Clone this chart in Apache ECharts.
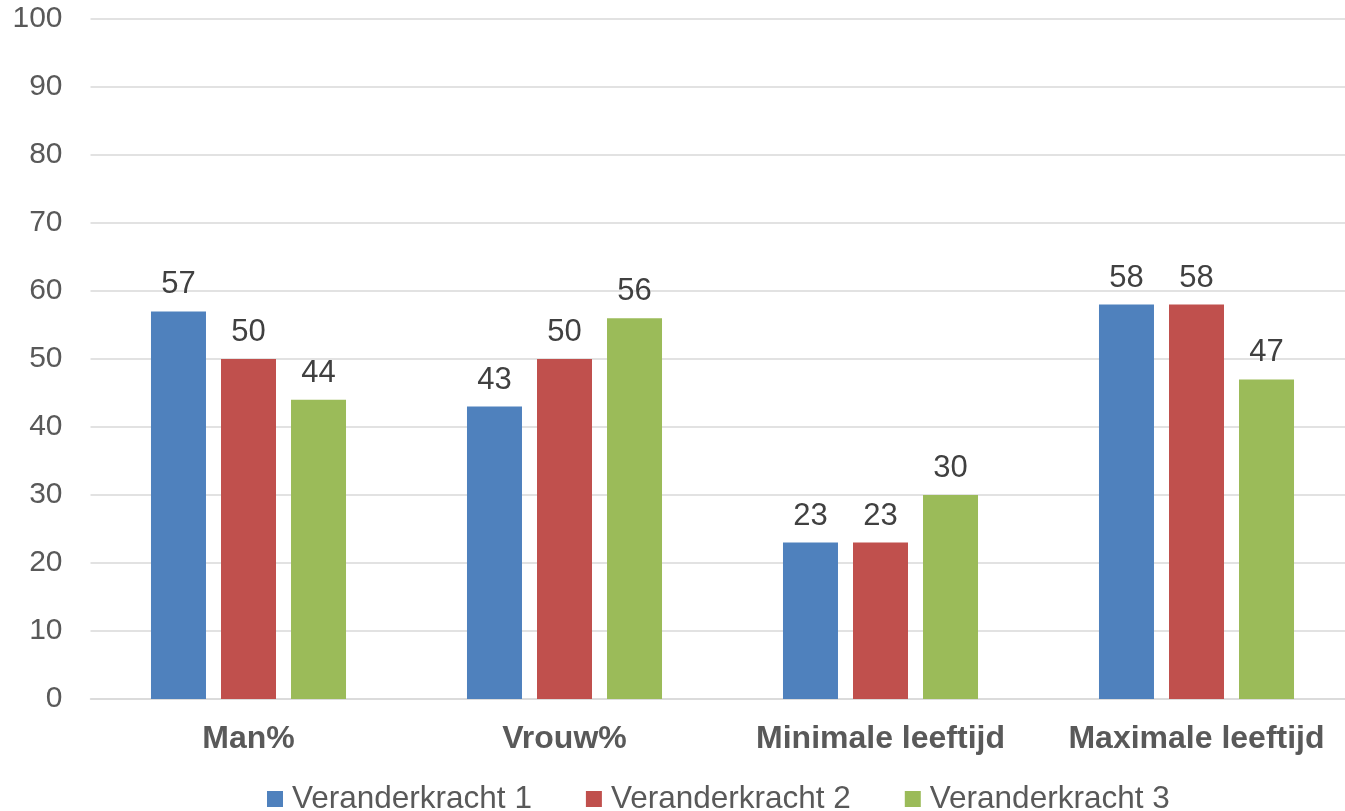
<!DOCTYPE html>
<html>
<head>
<meta charset="utf-8">
<script src="https://cdn.jsdelivr.net/npm/echarts@6/dist/echarts.min.js"></script>
<style>html,body{margin:0;padding:0;background:#fff;overflow:hidden;width:1345px;height:811px;}#c{width:1355px;height:811px;}</style>
</head>
<body>
<div id="c"></div>
<script>
const categories = ['Man%', 'Vrouw%', 'Minimale leeftijd', 'Maximale leeftijd'];
const seriesNames = ['Veranderkracht 1', 'Veranderkracht 2', 'Veranderkracht 3'];
const vk1 = [57, 43, 23, 58];
const vk2 = [50, 50, 23, 58];
const vk3 = [44, 56, 30, 47];
const colors = ['#4F81BD', '#C0504D', '#9BBB59'];

const chart = echarts.init(document.getElementById('c'), null, {renderer: 'canvas'});
const font = 'Liberation Sans, Arial, sans-serif';
const mk = (name, data, color) => ({
  name, type: 'bar', data, barWidth: 55, barGap: '27.3%',
  itemStyle: {color},
  label: {show: true, position: 'top', distance: 11, color: '#404040', fontSize: 31, fontFamily: font},
  emphasis: {disabled: true}
});
chart.setOption({
  animation: false,
  color: colors,
  textStyle: {fontFamily: font},
  grid: {left: 90.5, right: 0.5, top: 19, bottom: 112, containLabel: false},
  legend: {
    left: 267, top: 783, padding: 0, itemWidth: 16, itemHeight: 16, itemGap: 54,
    icon: 'rect',
    textStyle: {color: '#595959', fontSize: 31.5, fontFamily: font, lineHeight: 32, padding: [0, 0, 0, 4]},
    data: seriesNames
  },
  xAxis: {
    type: 'category', data: categories,
    axisLine: {lineStyle: {color: '#D9D9D9', width: 1.5}},
    axisTick: {show: false},
    axisLabel: {interval: 0, hideOverlap: false, color: '#595959', fontSize: 32, fontWeight: 'bold', fontFamily: font, margin: 24}
  },
  yAxis: {
    type: 'value', min: 0, max: 100, interval: 10,
    axisLine: {show: false}, axisTick: {show: false},
    splitLine: {lineStyle: {color: '#D9D9D9', width: 1.5}},
    axisLabel: {color: '#595959', fontSize: 30, fontFamily: font, margin: 28}
  },
  series: [mk(seriesNames[0], vk1, colors[0]), mk(seriesNames[1], vk2, colors[1]), mk(seriesNames[2], vk3, colors[2])]
});
</script>
</body>
</html>
